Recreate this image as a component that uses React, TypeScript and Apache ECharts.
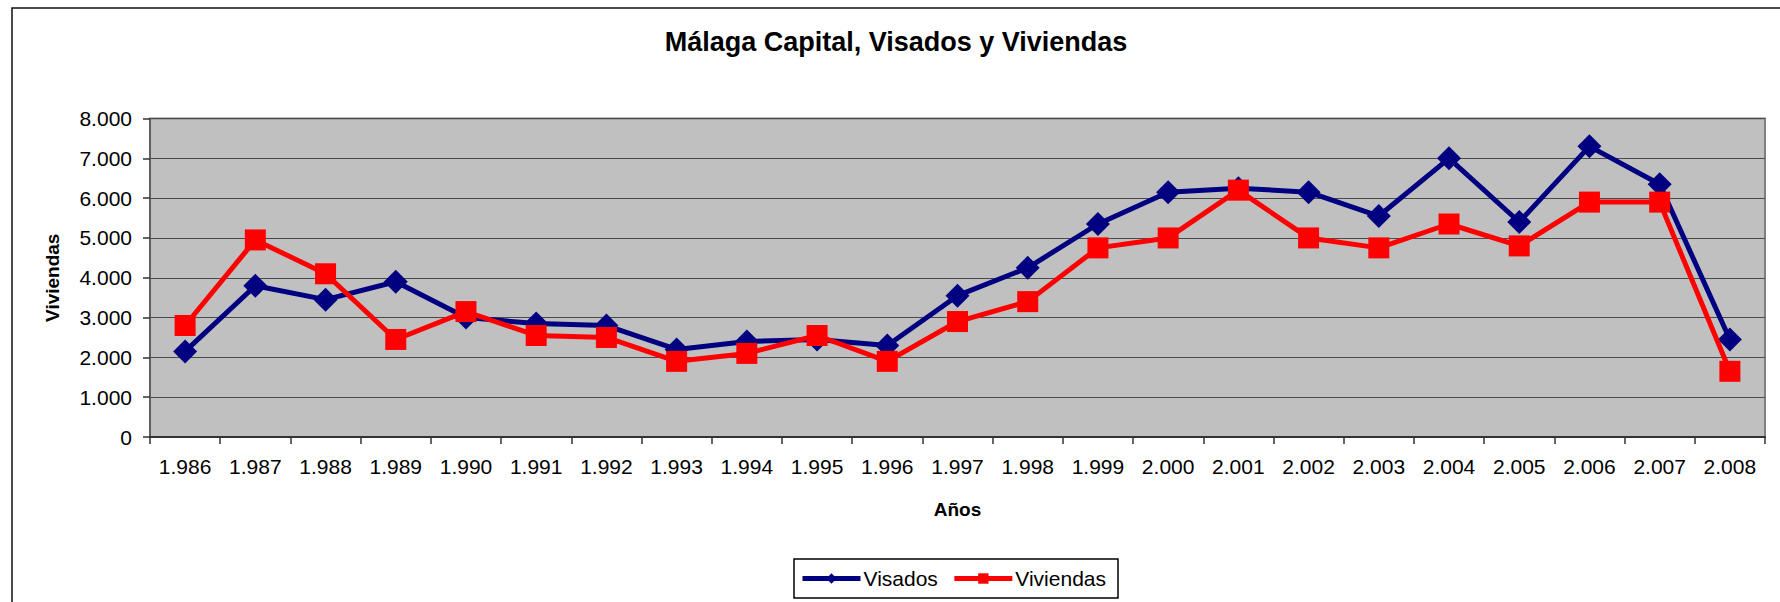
import React, { useEffect, useRef } from "react";
import * as echarts from "echarts";

const years = ["1.986","1.987","1.988","1.989","1.990","1.991","1.992","1.993","1.994","1.995","1.996","1.997","1.998","1.999","2.000","2.001","2.002","2.003","2.004","2.005","2.006","2.007","2.008"];
const visados = [2150, 3800, 3450, 3900, 3000, 2850, 2800, 2200, 2400, 2450, 2300, 3550, 4250, 5350, 6150, 6250, 6150, 5550, 7000, 5400, 7300, 6350, 2450];
const viviendas = [2800, 4950, 4100, 2450, 3150, 2550, 2500, 1900, 2100, 2550, 1900, 2900, 3400, 4750, 5000, 6200, 5000, 4750, 5350, 4800, 5900, 5900, 1650];
const titleText = "Málaga Capital, Visados y Viviendas";
const yAxisName = "Viviendas";
const xAxisName = "Años";
const seriesNames = ["Visados", "Viviendas"];

const FONT = "'Liberation Sans', Arial, sans-serif";

function fmtThousands(v: number): string {
  const s = String(Math.round(v));
  return s.replace(/\B(?=(\d{3})+(?!\d))/g, ".");
}

export default function App() {
  const ref = useRef<HTMLDivElement>(null);
  useEffect(() => {
    if (!ref.current) return;
    const chart = echarts.init(ref.current, undefined, { renderer: "svg" });
    chart.setOption({
      animation: false,
      backgroundColor: "#ffffff",
      textStyle: { fontFamily: FONT },
      graphic: [
        {
          type: "rect",
          shape: { x: 12, y: 8, width: 1800, height: 700 },
          style: { fill: "none", stroke: "#111", lineWidth: 1.5 },
          silent: true,
        },
        {
          type: "text",
          x: 896,
          y: 42,
          style: {
            text: titleText,
            fontFamily: FONT,
            fontSize: 27,
            fontWeight: "bold",
            fill: "#000",
            textAlign: "center",
            textVerticalAlign: "middle",
          },
        },
      ],
      legend: {
        left: 794,
        top: 559,
        orient: "horizontal",
        padding: [9, 12, 9, 6],
        itemGap: 14,
        itemWidth: 58,
        itemHeight: 13,
        borderColor: "#000",
        borderWidth: 1.5,
        borderRadius: 0,
        backgroundColor: "#fff",
        lineStyle: { width: 5 },
        textStyle: { fontSize: 21, color: "#000", fontFamily: FONT, padding: [0, 0, 0, -2] },
        data: seriesNames,
      },
      grid: {
        left: 150,
        top: 118.5,
        right: 15,
        bottom: 165,
        show: true,
        backgroundColor: "#C0C0C0",
        borderColor: "#808080",
        borderWidth: 2,
        containLabel: false,
      },
      xAxis: {
        type: "category",
        data: years,
        boundaryGap: true,
        name: xAxisName,
        nameLocation: "middle",
        nameGap: 63,
        nameTextStyle: { fontSize: 19, fontWeight: "bold", color: "#000", fontFamily: FONT },
        axisLine: { show: true, lineStyle: { color: "#333", width: 2 } },
        axisTick: { show: true, length: 7, alignWithLabel: false, lineStyle: { color: "#333", width: 1.5 } },
        axisLabel: { fontSize: 21, color: "#000", margin: 19, fontFamily: FONT, interval: 0 },
        splitLine: { show: false },
      },
      yAxis: {
        type: "value",
        min: 0,
        max: 8000,
        interval: 1000,
        name: yAxisName,
        nameLocation: "middle",
        nameRotate: 90,
        nameGap: 88,
        nameTextStyle: { fontSize: 19, fontWeight: "bold", color: "#000", fontFamily: FONT },
        axisLine: { show: true, lineStyle: { color: "#555", width: 1.5 } },
        axisTick: { show: true, length: 7, lineStyle: { color: "#333", width: 1.5 } },
        axisLabel: { fontSize: 21, color: "#000", margin: 18, fontFamily: FONT, formatter: (v: number) => fmtThousands(v) },
        splitLine: { show: true, lineStyle: { color: "#4a4a4a", width: 1.2 } },
      },
      series: [
        {
          name: seriesNames[0],
          type: "line",
          data: visados,
          symbol: "diamond",
          symbolSize: 24,
          lineStyle: { color: "#000080", width: 5 },
          itemStyle: { color: "#000080" },
          z: 2,
        },
        {
          name: seriesNames[1],
          type: "line",
          data: viviendas,
          symbol: "rect",
          symbolSize: 21,
          lineStyle: { color: "#FF0000", width: 5 },
          itemStyle: { color: "#FF0000" },
          z: 3,
        },
      ],
    });
    return () => chart.dispose();
  }, []);
  return (
    <div
      ref={ref}
      style={{ position: "absolute", left: 0, top: 0, width: 1780, height: 602 }}
    />
  );
}
